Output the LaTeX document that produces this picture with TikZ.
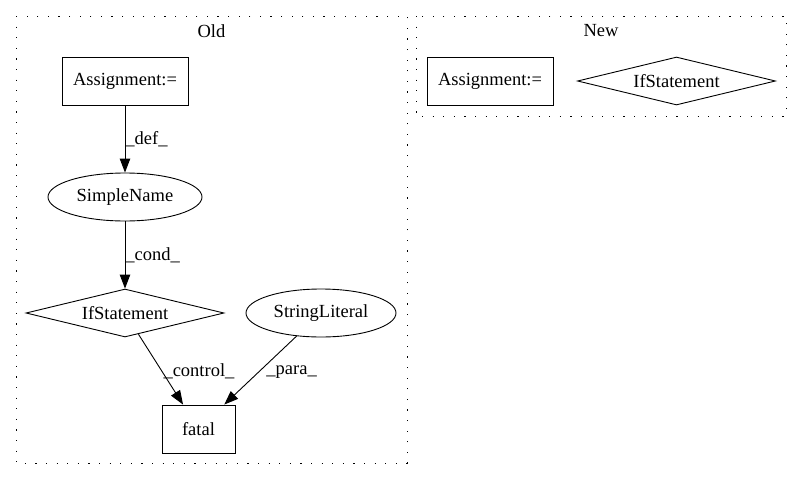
\documentclass[tikz,border=0pt]{standalone}
\usepackage{fontspec}
\setmainfont{Liberation Serif}
\usetikzlibrary{shapes.geometric,arrows.meta}
\begin{document}
\begin{tikzpicture}[x=1pt,y=-1pt,
  every node/.style={font=\fontsize{18.5}{22}\selectfont},
  cluster/.style={draw, line width=1pt, dash pattern=on 1.2pt off 9.4pt},
  rectnode/.style={draw, line width=0.9pt, rectangle, inner sep=0pt, minimum width=#1, minimum height=48pt},
  ellnode/.style={draw, line width=0.9pt, ellipse, inner sep=0pt, minimum width=#1, minimum height=48pt},
  dianode/.style={draw, line width=0.9pt, diamond, inner sep=0pt, aspect=4.125, minimum width=198pt, minimum height=48pt},
  edge/.style={draw, line width=0.9pt, -{Triangle[length=14pt,width=10.5pt]}},
  elabel/.style={anchor=west, inner sep=0pt}
]
\useasboundingbox (0,0) rectangle (801,480);
% clusters
\draw[cluster] (16,16) rectangle (407,463);
\node (oldlbl) at (211.5,31) {Old};
\draw[cluster] (416,16) rectangle (786,116);
\node (newlbl) at (601,31) {New};
% Old nodes
\node[rectnode=126pt] (a1) at (125,81) {Assignment:=};
\node[ellnode=154pt] (sn) at (125,197) {SimpleName};
\node[dianode] (if1) at (125,313) {IfStatement};
\node[ellnode=150pt] (sl) at (321,313) {StringLiteral};
\node[rectnode=73pt] (fatal) at (198.5,429) {fatal};
% New nodes
\node[rectnode=126pt] (a2) at (490,81) {Assignment:=};
\node[dianode] (if2) at (676.5,81) {IfStatement};
% edges
\draw[edge] (a1) -- node[elabel, pos=0.5] {\_def\_} (sn);
\draw[edge] (sn) -- node[elabel, pos=0.5] {\_cond\_} (if1);
\draw[edge] (if1) -- node[elabel, pos=0.53, xshift=1pt] {\_control\_} (fatal);
\draw[edge] (sl) -- node[elabel, pos=0.52, xshift=7pt] {\_para\_} (fatal);
\end{tikzpicture}
\end{document}
